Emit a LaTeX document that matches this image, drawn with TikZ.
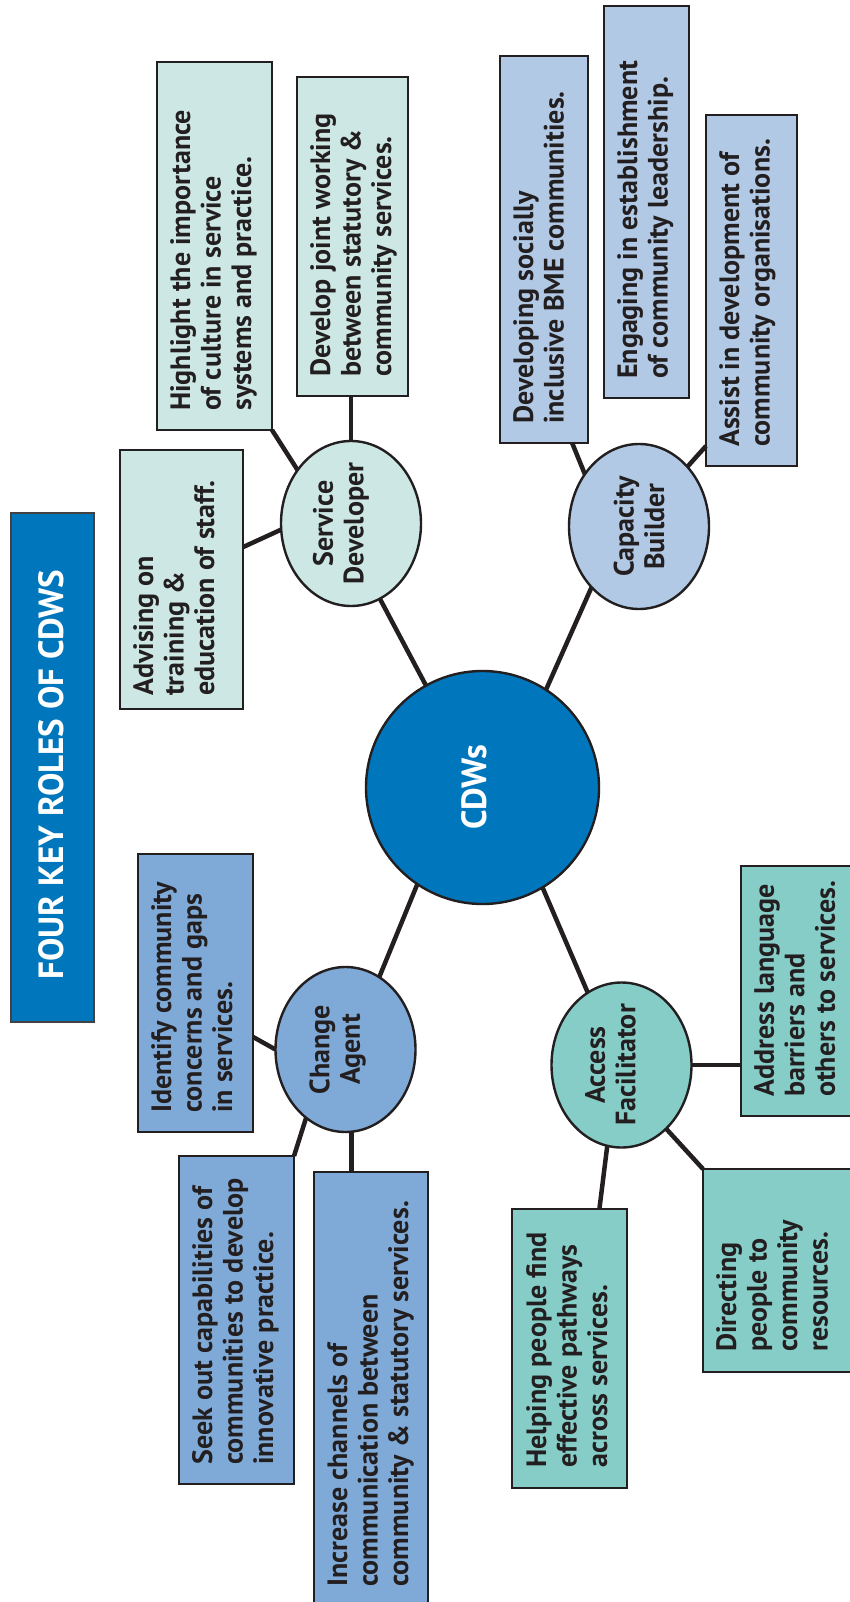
\documentclass[tikz,border=0pt]{standalone}
\usepackage{fontspec}
\setmainfont{PT Sans}
\usetikzlibrary{shapes.geometric,fit,calc}
\definecolor{ink}{HTML}{231F20}
\definecolor{cdwblue}{HTML}{0077BC}
\definecolor{sdfill}{HTML}{CDE8E4}
\definecolor{cbfill}{HTML}{B1C9E5}
\definecolor{cafill}{HTML}{7FAAD7}
\definecolor{affill}{HTML}{86CDC7}
\begin{document}
\begin{tikzpicture}[x=1pt,y=-1pt,
  box/.style={draw=ink, line width=2.4pt, inner sep=0pt, outer sep=0pt},
  role/.style={ellipse, draw=ink, line width=2.4pt, inner sep=0pt, outer sep=0pt, minimum width=140pt, minimum height=165pt},
  btext/.style={rotate=90, anchor=north west, align=left, inner sep=0pt, text=ink, font=\bfseries\fontsize{28}{30.5}\selectfont},
  etext/.style={rotate=90, align=center, inner sep=0pt, text=ink, font=\bfseries\fontsize{28}{30.5}\selectfont},
  link/.style={draw=ink, line width=4.5pt}]
\useasboundingbox (0,0) rectangle (850,1602);
\fill[white] (0,0) rectangle (850,1602);

% title
\node[box, fill=cdwblue, draw=ink!85, line width=2pt, fit={(11,513) (94,1022)}] (title) {};
\node[rotate=90, text=white, inner sep=0pt, font=\bfseries\fontsize{35}{38}\selectfont] (titletext) at ($(title)+(-1,7)$) {FOUR KEY ROLES OF CDWS};

% centre
\node[circle, draw=ink, line width=2.4pt, fill=cdwblue, minimum size=233pt, inner sep=0pt, outer sep=0pt] (cdw) at (482.5,787.5) {};
\node[rotate=90, text=white, inner sep=0pt, font=\bfseries\fontsize{35}{38}\selectfont] (cdwtext) at ($(cdw)+(-8,0)$) {CDWs};

% roles
\node[role, fill=sdfill] (sd) at (351,523.5) {};
\node[role, fill=cbfill] (cb) at (639,526.5) {};
\node[role, fill=cafill] (ca) at (345.5,1049.5) {};
\node[role, fill=affill] (af) at (621.5,1065) {};
\node[etext] (sdt) at ($(sd)+(-10,0)$) {Service\\Developer};
\node[etext] (cbt) at ($(cb)+(0,0)$) {Capacity\\Builder};
\node[etext] (cat) at ($(ca)+(-8,0)$) {Change\\Agent};
\node[etext] (aft) at ($(af)+(-11,0)$) {Access\\Facilitator};

% Service Developer boxes
\node[box, fill=sdfill, fit={(120,450) (243,709)}] (adv) {};
\node[box, fill=sdfill, fit={(157,62) (272,430)}] (hl) {};
\node[box, fill=sdfill, fit={(297,77) (408,396)}] (dev) {};
% Capacity Builder boxes
\node[box, fill=cbfill, fit={(500,56) (588,443)}] (dvs) {};
\node[box, fill=cbfill, fit={(604,6) (689,398)}] (eng) {};
\node[box, fill=cbfill, fit={(706,115) (797,466)}] (ast) {};
% Change Agent boxes
\node[box, fill=cafill, fit={(138,854) (253,1132)}] (idf) {};
\node[box, fill=cafill, fit={(179,1156) (294,1484)}] (sek) {};
\node[box, fill=cafill, fit={(314,1172) (428,1606)}] (inc) {};
% Access Facilitator boxes
\node[box, fill=affill, fit={(741,866) (854,1116)}] (adr) {};
\node[box, fill=affill, fit={(703,1169) (854,1372)}] (dir) {};
\node[box, fill=affill, fit={(512,1209) (627,1488)}] (hlp) {};

% box texts
\node[btext] (advT) at ($(adv.south west)+(13,-13)$) {Advising on\\training \&\\education of staff.};
\node[btext] (hlT) at ($(hl.south west)+(13,-19)$) {Highlight the importance\\of culture in service\\systems and practice.};
\node[btext] (devT) at ($(dev.south west)+(13,-19)$) {Develop joint working\\between statutory \&\\community services.};
\node[btext] (dvsT) at ($(dvs.south west)+(13,-19)$) {Developing socially\\inclusive BME communities.};
\node[btext] (engT) at ($(eng.south west)+(13,-19)$) {Engaging in establishment\\of community leadership.};
\node[btext] (astT) at ($(ast.south west)+(13,-19)$) {Assist in development of\\community organisations.};
\node[btext] (idfT) at ($(idf.south west)+(13,-19)$) {Identify community\\concerns and gaps\\in services.};
\node[btext] (sekT) at ($(sek.south west)+(13,-19)$) {Seek out capabilities of\\communities to develop\\innovative practice.};
\node[btext] (incT) at ($(inc.south west)+(13,-19)$) {Increase channels of\\communication between\\community \& statutory services.};
\node[btext] (adrT) at ($(adr.south west)+(13,-19)$) {Address language\\barriers and\\others to services.};
\node[btext] (dirT) at ($(dir.south west)+(13,-20)$) {Directing\\people to\\community\\resources.};
\node[btext] (hlpT) at ($(hlp.south west)+(14,-20)$) {Helping people find\\effective pathways\\across services.};

% connectors
\draw[link] (cdw.119) -- (sd.291);
\draw[link] (cdw.57) -- (cb.232);
\draw[link] (cdw.236) -- (ca.65);
\draw[link] (cdw.301) -- (af.115);

\draw[link] (hl.south east) -- (sd.135);
\draw[link] (sd.north |- dev.south) -- (sd.north);
\draw[link] ($(adv.north east)!0.375!(adv.south east)$) -- (sd.185);

\draw[link] ($(dvs.south west)!0.82!(dvs.south east)$) -- (cb.136);
\draw[link] ($(eng.south west)!0.46!(eng.south east)$) -- ($(eng.south west)!0.46!(eng.south east)$ |- cb.north);
\draw[link] ($(ast.north west)!0.943!(ast.south west)$) -- (cb.51);

\draw[link] ($(idf.north east)!0.658!(idf.south east)$) -- (ca.180);
\draw[link] (sek.north east) -- (ca.240);
\draw[link] (ca.274) -- (ca.274 |- inc.north);

\draw[link] (af.east) -- (af.east -| adr.west);
\draw[link] (af.305) -- (dir.north west);
\draw[link] (af.260) -- ($(hlp.north west)!0.76!(hlp.north east)$);
\end{tikzpicture}
\end{document}
